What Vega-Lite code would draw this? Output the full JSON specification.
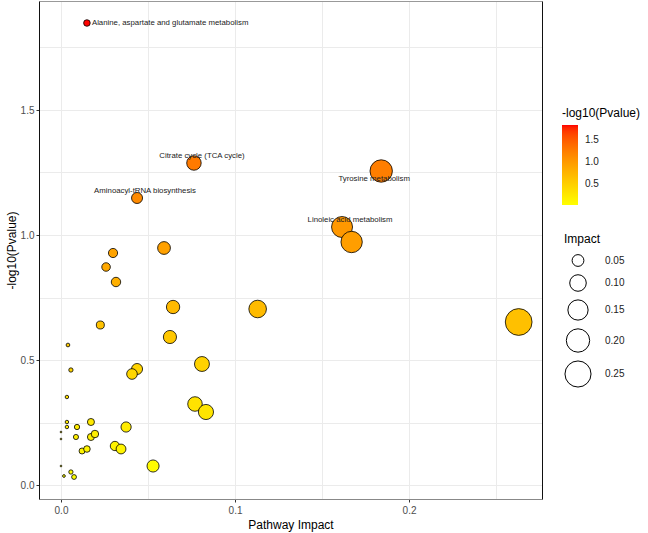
{
  "$schema": "https://vega.github.io/schema/vega-lite/v6.json",
  "width": 503,
  "height": 498,
  "autosize": {"type": "none"},
  "padding": {"left": 39, "top": 1, "right": 106, "bottom": 34},
  "background": "white",
  "config": {
    "font": "Liberation Sans",
    "view": {"stroke": null},
    "axis": {
      "gridColor": "#EBEBEB", "gridWidth": 1, "tickColor": "#333333", "tickSize": 3,
      "labelColor": "#4D4D4D", "labelFontSize": 10, "titleFontSize": 12,
      "titleFontWeight": "normal", "titleColor": "black", "domainColor": "#222222", "domainWidth": 1
    },
    "legend": {"titleFontWeight": "normal", "titleColor": "black", "titleFontSize": 12, "labelFontSize": 10, "labelColor": "#222222"}
  },
  "data": {
    "values": [
      {"impact": 0.0, "logp": 0.212, "label": ""},
      {"impact": 0.0, "logp": 0.184, "label": ""},
      {"impact": 0.0, "logp": 0.076, "label": ""},
      {"impact": 0.0017, "logp": 0.036, "label": ""},
      {"impact": 0.0075, "logp": 0.032, "label": ""},
      {"impact": 0.0057, "logp": 0.052, "label": ""},
      {"impact": 0.0034, "logp": 0.352, "label": ""},
      {"impact": 0.0057, "logp": 0.46, "label": ""},
      {"impact": 0.004, "logp": 0.56, "label": ""},
      {"impact": 0.0034, "logp": 0.252, "label": ""},
      {"impact": 0.0034, "logp": 0.232, "label": ""},
      {"impact": 0.0092, "logp": 0.232, "label": ""},
      {"impact": 0.0086, "logp": 0.192, "label": ""},
      {"impact": 0.0121, "logp": 0.136, "label": ""},
      {"impact": 0.0149, "logp": 0.144, "label": ""},
      {"impact": 0.0172, "logp": 0.252, "label": ""},
      {"impact": 0.0172, "logp": 0.192, "label": ""},
      {"impact": 0.0195, "logp": 0.204, "label": ""},
      {"impact": 0.031, "logp": 0.156, "label": ""},
      {"impact": 0.0345, "logp": 0.144, "label": ""},
      {"impact": 0.0374, "logp": 0.232, "label": ""},
      {"impact": 0.0529, "logp": 0.076, "label": ""},
      {"impact": 0.077, "logp": 0.324, "label": ""},
      {"impact": 0.0833, "logp": 0.292, "label": ""},
      {"impact": 0.0437, "logp": 0.464, "label": ""},
      {"impact": 0.0408, "logp": 0.444, "label": ""},
      {"impact": 0.081, "logp": 0.484, "label": ""},
      {"impact": 0.0626, "logp": 0.592, "label": ""},
      {"impact": 0.0644, "logp": 0.712, "label": ""},
      {"impact": 0.0226, "logp": 0.64, "label": ""},
      {"impact": 0.0316, "logp": 0.812, "label": ""},
      {"impact": 0.0259, "logp": 0.872, "label": ""},
      {"impact": 0.0299, "logp": 0.928, "label": ""},
      {"impact": 0.0592, "logp": 0.948, "label": ""},
      {"impact": 0.113, "logp": 0.704, "label": ""},
      {"impact": 0.263, "logp": 0.652, "label": ""},
      {"impact": 0.1615, "logp": 1.032, "label": "Linoleic acid metabolism"},
      {"impact": 0.167, "logp": 0.972, "label": ""},
      {"impact": 0.184, "logp": 1.256, "label": "Tyrosine metabolism"},
      {"impact": 0.0437, "logp": 1.148, "label": "Aminoacyl-tRNA biosynthesis"},
      {"impact": 0.0764, "logp": 1.288, "label": "Citrate cycle (TCA cycle)"},
      {"impact": 0.0149, "logp": 1.848, "label": "Alanine, aspartate and glutamate metabolism"}
    ]
  },
  "resolve": {"axis": {"x": "independent", "y": "independent"}},
  "layer": [
    {
      "mark": {"type": "circle", "stroke": "black", "strokeWidth": 0.8, "opacity": 1},
      "encoding": {
        "x": {
          "field": "impact", "type": "quantitative",
          "scale": {"domain": [-0.01264, 0.2764], "nice": false, "zero": false},
          "axis": {
            "title": "Pathway Impact", "orient": "bottom",
            "values": [0, 0.05, 0.1, 0.15, 0.2, 0.25],
            "labelExpr": "abs(datum.value*10 - round(datum.value*10)) < 0.001 ? format(datum.value, '.1f') : ''",
            "tickOpacity": {"condition": {"test": "abs(datum.value*10 - round(datum.value*10)) < 0.001", "value": 1}, "value": 0},
            "labelPadding": 3, "titlePadding": 4, "domainColor": "#888888"
          }
        },
        "y": {
          "field": "logp", "type": "quantitative",
          "scale": {"domain": [-0.056, 1.936], "nice": false, "zero": false},
          "axis": {
            "title": "-log10(Pvalue)", "orient": "left",
            "values": [0, 0.25, 0.5, 0.75, 1, 1.25, 1.5, 1.75],
            "labelExpr": "abs(datum.value*2 - round(datum.value*2)) < 0.001 ? format(datum.value, '.1f') : ''",
            "tickOpacity": {"condition": {"test": "abs(datum.value*2 - round(datum.value*2)) < 0.001", "value": 1}, "value": 0},
            "labelPadding": 2, "titlePadding": 2, "domainColor": "#111111"
          }
        },
        "fill": {
          "field": "logp", "type": "quantitative",
          "scale": {"domain": [0.03, 1.85], "range": ["#FFFF00", "#FF0000"], "interpolate": "lab"},
          "legend": {
            "orient": "none", "legendX": 523, "legendY": 107, "title": "-log10(Pvalue)",
            "gradientLength": 80, "gradientThickness": 16, "gradientStrokeWidth": 0,
            "values": [0.5, 1, 1.5], "format": ".1f", "labelOffset": 7
          }
        },
        "size": {
          "field": "impact", "type": "quantitative",
          "scale": {"domain": [0, 0.263], "range": [3, 716], "zero": false},
          "legend": {
            "orient": "none", "legendX": 525, "legendY": 233, "title": "Impact",
            "values": [0.05, 0.1, 0.15, 0.2, 0.25], "symbolType": "circle",
            "symbolFillColor": "white", "symbolStrokeColor": "black", "symbolStrokeWidth": 1,
            "rowPadding": 3, "labelOffset": 13, "titlePadding": 8
          }
        }
      }
    },
    {
      "transform": [{"filter": "datum.label == 'Alanine, aspartate and glutamate metabolism'"}],
      "mark": {"type": "text", "align": "left", "baseline": "middle", "dx": 5, "dy": 0, "fontSize": 7.8, "fill": "#222222"},
      "encoding": {
        "x": {"field": "impact", "type": "quantitative", "axis": {"orient": "top", "labels": false, "ticks": false, "grid": false, "title": null, "domainColor": "#999999"}},
        "y": {"field": "logp", "type": "quantitative", "axis": {"orient": "right", "labels": false, "ticks": false, "grid": false, "title": null, "domainColor": "#111111"}},
        "text": {"field": "label"}
      }
    },
    {
      "transform": [{"filter": "datum.label == 'Citrate cycle (TCA cycle)' || datum.label == 'Aminoacyl-tRNA biosynthesis' || datum.label == 'Linoleic acid metabolism'"}],
      "mark": {"type": "text", "align": "center", "baseline": "middle", "dx": 8, "dy": -7, "fontSize": 7.8, "fill": "#222222"},
      "encoding": {
        "x": {"field": "impact", "type": "quantitative", "axis": null},
        "y": {"field": "logp", "type": "quantitative", "axis": null},
        "text": {"field": "label"}
      }
    },
    {
      "transform": [{"filter": "datum.label == 'Tyrosine metabolism'"}],
      "mark": {"type": "text", "align": "center", "baseline": "middle", "dx": -7, "dy": 8, "fontSize": 7.8, "fill": "#222222"},
      "encoding": {
        "x": {"field": "impact", "type": "quantitative", "axis": null},
        "y": {"field": "logp", "type": "quantitative", "axis": null},
        "text": {"field": "label"}
      }
    }
  ]
}
